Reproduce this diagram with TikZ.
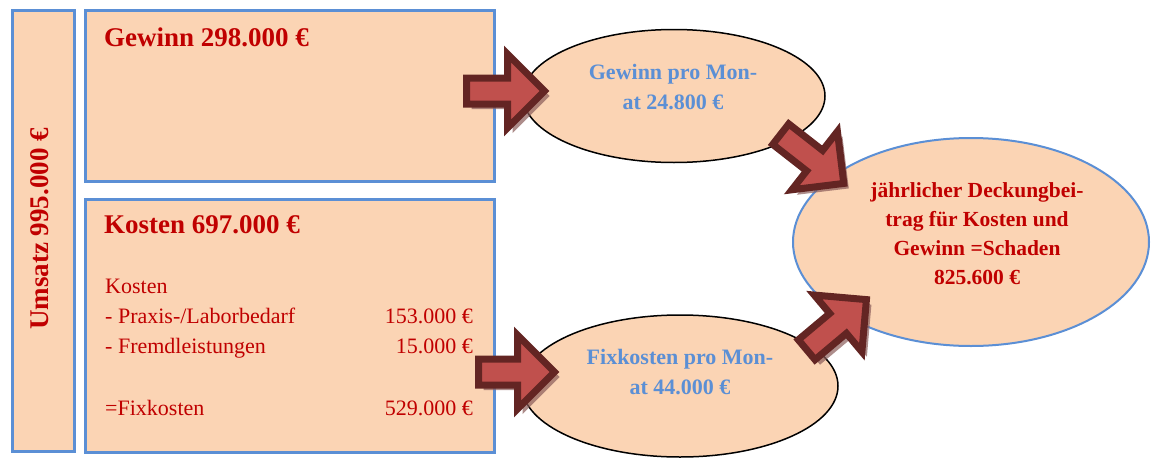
\documentclass[tikz,border=0pt]{standalone}
\usepackage{fontspec}
\setmainfont{Liberation Serif}
\usepackage{tikz}
\usetikzlibrary{positioning, shapes, shadows}
\definecolor{peach}{HTML}{FBD4B4}
\definecolor{boxblue}{HTML}{5B8FD5}
\definecolor{textred}{HTML}{C00000}
\definecolor{arrowfill}{HTML}{C0504D}
\definecolor{arrowline}{HTML}{632523}

\begin{document}
\begin{tikzpicture}[x=1pt, y=-1pt, every node/.style={inner sep=0pt},
    box/.style={draw=boxblue, fill=peach, line width=2.5pt, rectangle, anchor=north west},
    oval/.style={draw, fill=peach, ellipse, line width=1.5pt},
    blockarrow/.style={single arrow, draw=arrowline, fill=arrowfill, line width=7pt, inner sep=9.5pt, single arrow head extend=24pt, anchor=tail, drop shadow={shadow xshift=5pt, shadow yshift=-5pt, fill=arrowline!75, opacity=0.7}},
    title/.style={font=\fontsize{27}{30}\selectfont\bfseries, text=textred},
    entry/.style={font=\fontsize{22}{25}\selectfont, text=textred},
    monthly/.style={font=\fontsize{22}{30}\selectfont\bfseries, text=boxblue, align=center},
    result/.style={font=\fontsize{21.5}{29}\selectfont\bfseries, text=textred, align=center}]
        \useasboundingbox (0,0) rectangle (1152,458);
        \node (umsatz) [box, minimum width=62pt, minimum height=441pt] at (11,9) {};
        \node (gewinn) [box, minimum width=409pt, minimum height=171pt] at (84,9) {};
        \node (kosten) [box, minimum width=409pt, minimum height=253pt] at (84,198) {};
        \node (umsatztext) [title, rotate=90] at (40,229) {Umsatz 995.000 €};
        \node (gewinntext) [title, anchor=base west] at (104,46) {Gewinn 298.000 €};
        \node (kostentext) [title, anchor=base west] at (104,233) {Kosten 697.000 €};

        \node (k0) [entry, anchor=base west] at (105,293) {Kosten};
        \node (k1) [entry, anchor=base west] at (105,323) {- Praxis-/Laborbedarf};
        \node (k2) [entry, anchor=base west] at (105,353) {- Fremdleistungen};
        \node (k3) [entry, anchor=base west] at (105,415) {=Fixkosten};
        \node (b1) [entry, anchor=base east] at (473,323) {153.000 €};
        \node (b2) [entry, anchor=base east] at (473,353) {15.000 €};
        \node (b3) [entry, anchor=base east] at (473,415) {529.000 €};

        \node (gmon) [oval, minimum width=302pt, minimum height=133pt] at (674,96) {};
        \node (fmon) [oval, minimum width=316pt, minimum height=142pt] at (680,386) {};
        \node (schaden) [oval, draw=boxblue, line width=2pt, minimum width=356pt, minimum height=208pt] at (971,242) {};
        \node (gmontext) [monthly] at (673,87) {Gewinn pro Mon-\\at 24.800 €};
        \node (fmontext) [monthly] at (680,372) {Fixkosten pro Mon-\\at 44.000 €};
        \node (schadentext) [result] at (977,234) {jährlicher Deckungbei-\\trag für Kosten und\\Gewinn =Schaden\\825.600 €};

        \node (pfeilA) [blockarrow, minimum height=78pt] at (463,91) {};
        \node (pfeilB) [blockarrow, minimum height=76pt] at (475,372) {};
        \node (pfeilC) [blockarrow, minimum height=80pt, rotate=-38] at (778,132) {};
        \node (pfeilD) [blockarrow, minimum height=78pt, rotate=40] at (804,352) {};
    \end{tikzpicture}
\end{document}
